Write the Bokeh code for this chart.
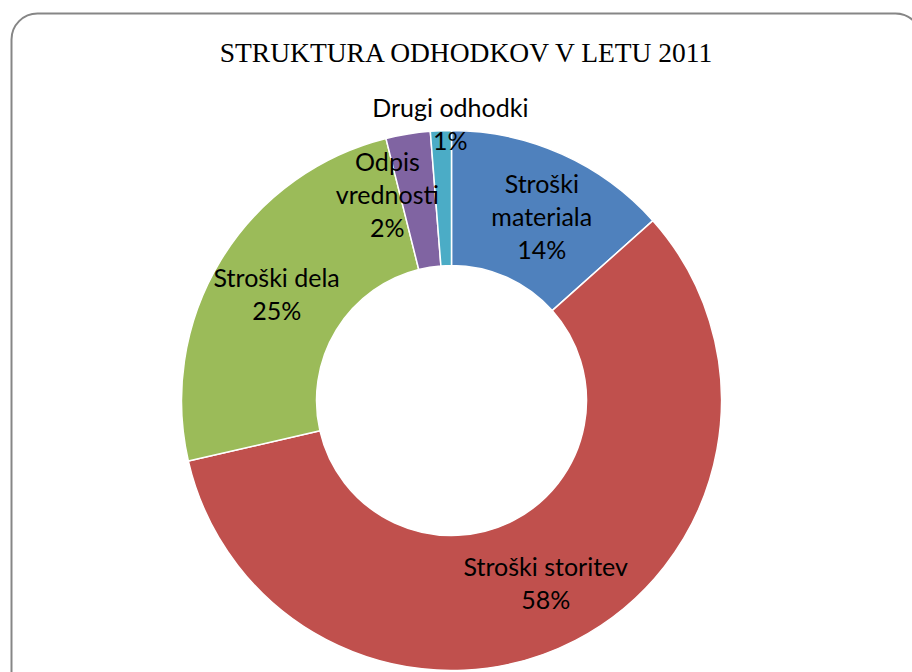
import numpy as np
from bokeh.plotting import figure
from bokeh.models import Range1d, BoxAnnotation, ColumnDataSource
from bokeh.core.properties import value
from bokeh.embed import file_html
from bokeh.resources import INLINE

# ---- data ----
categories = ["Stroški materiala", "Stroški storitev", "Stroški dela", "Odpis vrednosti", "Drugi odhodki"]
shares = [13.4, 58.0, 24.7, 2.65, 1.25]
pct_labels = ["14%", "58%", "25%", "2%", "1%"]
label_lines = [["Stroški", "materiala"], ["Stroški storitev"], ["Stroški dela"], ["Odpis", "vrednosti"], ["Drugi odhodki"]]
colors = ["#4F81BD", "#C0504D", "#9BBB59", "#8064A2", "#4BACC6"]
title = "STRUKTURA ODHODKOV V LETU 2011"

# ---- layout (screen-pixel coordinates, y negated) ----
W, H = 912, 672
cx, cy = 451, -400
r_out, r_in = 270, 135
# label radius and angular tweak (degrees) per slice
lab_r = [205, 205, 205, 216, 277]
lab_da = [2, 0, 0, -8, 2]
line_h = 33
FONT = "Lato"

p = figure(width=W, height=H, output_backend="svg", toolbar_location=None,
           x_range=Range1d(0, W), y_range=Range1d(-H, 0),
           min_border=0, outline_line_color=None)
p.axis.visible = False
p.grid.visible = False
p.background_fill_color = "white"
p.border_fill_color = "white"

# border frame
p.add_layout(BoxAnnotation(left=11, right=921, top=-13, bottom=-720, border_radius=26,
                           fill_alpha=0, line_color="#868686", line_alpha=1.0, line_width=2))

frac = np.array(shares) / np.sum(shares)
cum = np.concatenate([[0], np.cumsum(frac)])
start = np.pi / 2 - 2 * np.pi * cum[:-1]
end = np.pi / 2 - 2 * np.pi * cum[1:]
src = ColumnDataSource(dict(start=start, end=end, color=colors, cat=categories))
p.annular_wedge(x=cx, y=cy, inner_radius=r_in, outer_radius=r_out,
                start_angle="start", end_angle="end", direction="clock",
                fill_color="color", line_color="white", line_width=1.5, source=src)

# labels
tx, ty, tt = [], [], []
for i in range(len(categories)):
    mid = 2 * np.pi * (cum[i] + cum[i + 1]) / 2 + np.radians(lab_da[i])
    lx = cx + lab_r[i] * np.sin(mid)
    ly = cy + lab_r[i] * np.cos(mid)
    lines = label_lines[i] + [pct_labels[i]]
    n = len(lines)
    for k, s in enumerate(lines):
        tx.append(lx)
        ty.append(ly + ((n - 1) / 2 - k) * line_h)
        tt.append(s)
p.text(x=tx, y=ty, text=tt, text_align="center", text_baseline="middle",
       text_font=value(FONT), text_font_size="25px", text_color="black")

p.text(x=[467], y=[-52], text=[title], text_align="center", text_baseline="middle",
       text_font=value("Liberation Serif"), text_font_size="27.5px", text_color="black")

open("out.html", "w").write(file_html(p, INLINE))
